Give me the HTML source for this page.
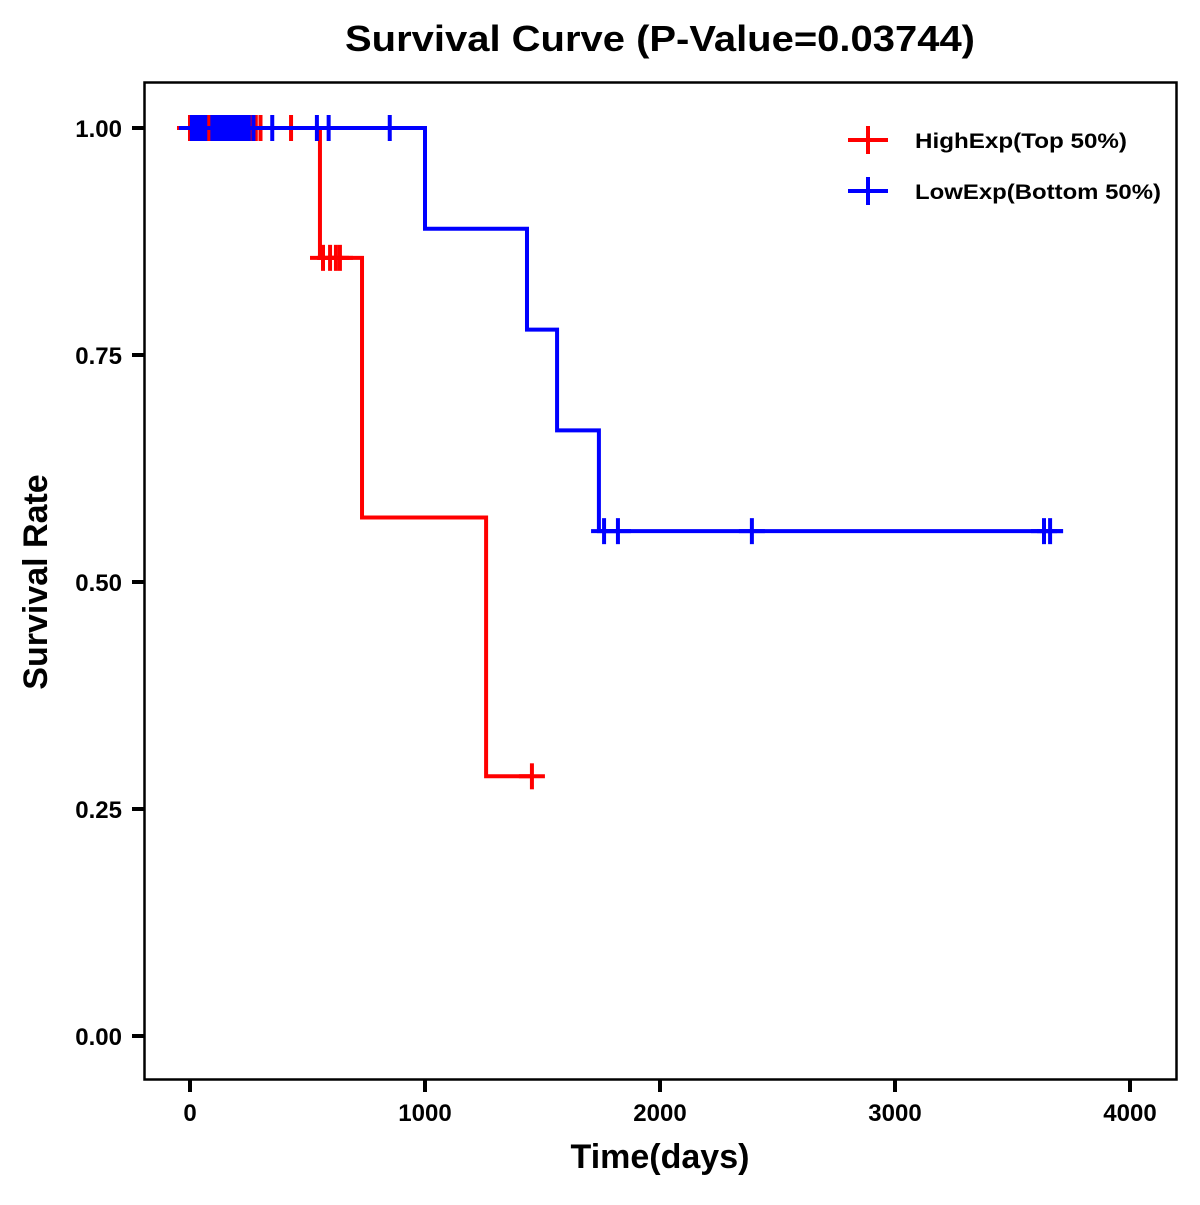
<!DOCTYPE html>
<html><head><meta charset="utf-8"><style>
body{margin:0;background:#fff;}
svg text{font-family:"Liberation Sans",Arial,sans-serif;font-weight:bold;}
</style></head><body>
<svg id="chart" width="1200" height="1200" xmlns="http://www.w3.org/2000/svg">
<rect width="1200" height="1200" fill="#fff"/>
<text x="660" y="51" font-size="36" text-anchor="middle" textLength="630" lengthAdjust="spacingAndGlyphs">Survival Curve (P-Value=0.03744)</text>
<rect x="144.5" y="82.5" width="1032" height="997" fill="none" stroke="#000" stroke-width="2.5"/>
<g id="axes"></g>
<g id="series"></g>
<text x="660" y="1168" font-size="34" text-anchor="middle">Time(days)</text>
<text transform="translate(47,582) rotate(-90)" font-size="34" text-anchor="middle">Survival Rate</text>
<g>
<g>
<line x1="848" y1="140" x2="888" y2="140" stroke="#f00" stroke-width="4"/><line x1="868" y1="126" x2="868" y2="154" stroke="#f00" stroke-width="4"/>
<text x="915" y="148" font-size="21" textLength="212" lengthAdjust="spacingAndGlyphs">HighExp(Top 50%)</text></g>
<g>
<line x1="848" y1="191" x2="888" y2="191" stroke="#00f" stroke-width="4"/><line x1="868" y1="177" x2="868" y2="205" stroke="#00f" stroke-width="4"/>
<text x="915" y="199" font-size="21" textLength="246" lengthAdjust="spacingAndGlyphs">LowExp(Bottom 50%)</text></g>
</g>
</svg>
<script>
const xTicks=[0,1000,2000,3000,4000];
const yTicks=[0,0.25,0.5,0.75,1.0];
const yTickLabels=["0.00","0.25","0.50","0.75","1.00"];
const highTimes=[0,553,732,1260,1455];
const highSurv=[1,0.857,0.571,0.286,0.286];
const highCensor=[0,5,12,20,30,45,60,80,90,100,115,130,145,160,180,200,215,230,240,255,265,280,300,430,566,596,621,638,1455];
const highCensorSurv=[1,1,1,1,1,1,1,1,1,1,1,1,1,1,1,1,1,1,1,1,1,1,1,1,0.857,0.857,0.857,0.857,0.286];
const lowTimes=[0,1000,1434,1562,1740,3715];
const lowSurv=[1,0.889,0.778,0.667,0.556,0.556];
const lowCensor=[8,15,25,35,50,65,95,105,120,135,150,165,175,190,200,210,220,230,240,250,270,350,540,590,850,1762,1821,2391,3634,3660];
const lowCensorSurv=[1,1,1,1,1,1,1,1,1,1,1,1,1,1,1,1,1,1,1,1,1,1,1,1,1,0.556,0.556,0.556,0.556,0.556];
const X=t=>190+t*0.235;
const Y=s=>1036-s*908;
const NS="http://www.w3.org/2000/svg";
function mk(tag,attrs,parent){const e=document.createElementNS(NS,tag);for(const k in attrs)e.setAttribute(k,attrs[k]);parent.appendChild(e);return e;}
const axes=document.getElementById('axes');
xTicks.forEach(t=>{
  const l=mk('line',{x1:X(t),x2:X(t),y1:1080,y2:1092,stroke:'#000','stroke-width':4},axes);
  
  
  const tx=mk('text',{x:X(t),y:1121,'font-size':24,'text-anchor':'middle'},axes);tx.textContent=t;
  
  
});
yTicks.forEach((v,i)=>{
  const l=mk('line',{x1:132,x2:144,y1:Y(v),y2:Y(v),stroke:'#000','stroke-width':4},axes);
  
  
  const tx=mk('text',{x:122,y:Y(v)+9,'font-size':24,'text-anchor':'end'},axes);tx.textContent=yTickLabels[i];
  
  
});
const ser=document.getElementById('series');
function draw(times,surv,cens,censS,color,name){
  let d='M'+X(times[0])+','+Y(surv[0]);
  for(let i=1;i<times.length;i++){d+=' H'+X(times[i])+' V'+Y(surv[i]);}
  const p=mk('path',{d:d,fill:'none',stroke:color,'stroke-width':4},ser);
  
  
  cens.forEach((t,i)=>{
    const g=mk('g',{},ser);
    
    
    mk('line',{x1:X(t)-13,x2:X(t)+13,y1:Y(censS[i]),y2:Y(censS[i]),stroke:color,'stroke-width':4},g);
    mk('line',{x1:X(t),x2:X(t),y1:Y(censS[i])-13,y2:Y(censS[i])+13,stroke:color,'stroke-width':4},g);
  });
}
draw(highTimes,highSurv,highCensor,highCensorSurv,'#f00','high-exp');
draw(lowTimes,lowSurv,lowCensor,lowCensorSurv,'#00f','low-exp');
</script>
</body></html>
